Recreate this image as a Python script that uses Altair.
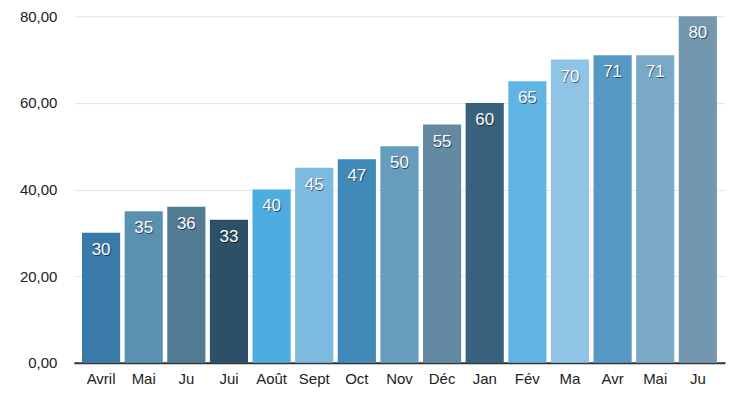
import json
import altair as alt
import pandas as pd

months = ["Avril", "Mai", "Ju", "Jui", "Août", "Sept", "Oct", "Nov", "Déc",
          "Jan", "Fév", "Ma", "Avr", "Mai", "Ju"]
values = [30, 35, 36, 33, 40, 45, 47, 50, 55, 60, 65, 70, 71, 71, 80]
colors = ["#3a7aab", "#5a90b0", "#517a93", "#2d5068", "#4eade0", "#7dbae0",
          "#4189b8", "#669dbd", "#6389a3", "#37617c", "#61b5e4", "#8fc4e6",
          "#5598c2", "#7aa9c7", "#7297af"]
y_ticks = [0, 20, 40, 60, 80]

idx = list(range(len(months)))
df = pd.DataFrame({"idx": idx, "month": months, "value": values})

label_expr = json.dumps(months, ensure_ascii=False) + "[datum.value]"

x = alt.X("idx:O", title=None,
          scale=alt.Scale(paddingInner=0.105, paddingOuter=0.19),
          axis=alt.Axis(labelExpr=label_expr, labelAngle=0, labelFontSize=15,
                        labelFont="Liberation Sans", labelColor="#222222",
                        labelPadding=9, ticks=False, domainColor="#333333",
                        domainWidth=2, grid=False))
y = alt.Y("value:Q", title=None,
          scale=alt.Scale(domain=[0, 80], nice=False),
          axis=alt.Axis(values=y_ticks,
                        labelExpr="replace(format(datum.value, '.2f'), '.', ',')",
                        labelFontSize=15, labelFont="Liberation Sans",
                        labelColor="#222222", labelPadding=17, ticks=False,
                        domain=False, gridColor="#e4e4e4", gridWidth=1))

base = alt.Chart(df)
bars = base.mark_bar().encode(
    x=x, y=y,
    color=alt.Color("idx:N", scale=alt.Scale(domain=idx, range=colors), legend=None),
)
shadow = base.mark_text(baseline="top", dy=10, dx=0.8, fontSize=17,
                        font="Liberation Sans", color="#000000", opacity=0.55).encode(
    x=x, y=y, text="value:Q")
labels = base.mark_text(baseline="top", dy=9, fontSize=17,
                        font="Liberation Sans", color="#ffffff").encode(
    x=x, y=y, text="value:Q")

chart = alt.layer(bars, shadow, labels).properties(
    width=652, height=347, autosize="none", background="#ffffff",
    padding={"left": 66, "top": 8, "right": 10, "bottom": 30},
).configure_view(stroke=None, strokeWidth=0)

chart.save("out.html", embed_options={"renderer": "svg", "actions": False})
